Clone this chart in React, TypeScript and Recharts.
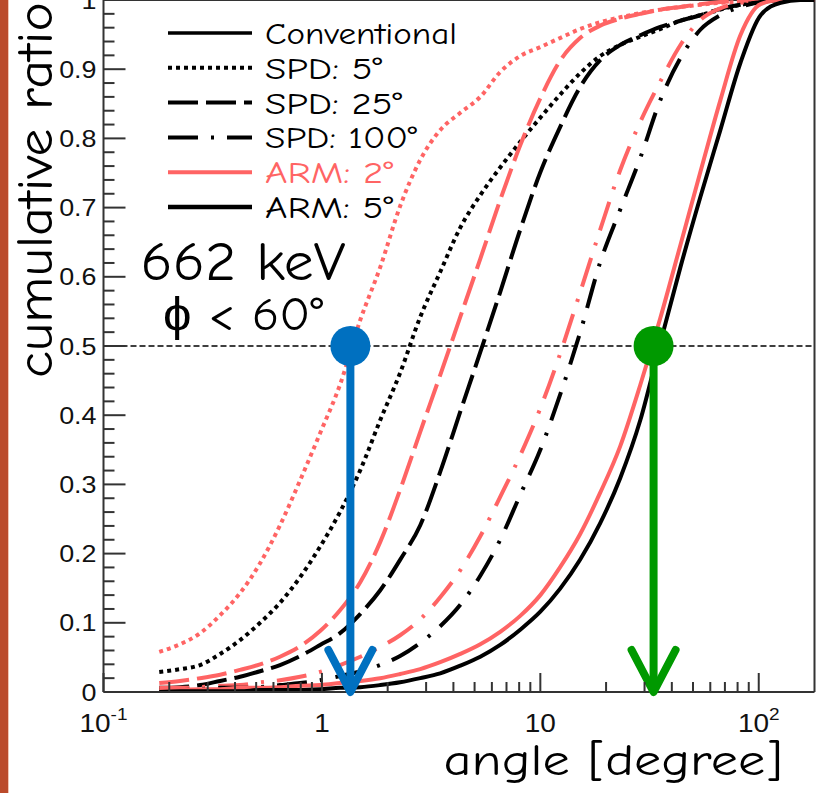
import React from "react";
import {
  Legend,
  Line,
  LineChart,
  ReferenceDot,
  ReferenceLine,
  XAxis,
  YAxis,
} from "recharts";

const angles = [
  0.18, 0.224, 0.277, 0.342, 0.422, 0.521, 0.643, 0.795, 0.981, 1.21, 1.5, 1.85,
  2.28, 2.82, 3.48, 4.3, 5.31, 6.55, 8.09, 10, 12.3, 15.2, 18.8, 23.2, 28.7,
  35.4, 43.8, 54, 66.7, 82.4, 102, 126, 155, 180,
];

// cumulative ratio for each curve, one value per angle above
const spd5Arm2 = [
  0.058, 0.069, 0.085, 0.111, 0.143, 0.186, 0.241, 0.306, 0.374, 0.444, 0.538, 0.614,
  0.702, 0.769, 0.812, 0.837, 0.86, 0.896, 0.919, 0.932, 0.945, 0.958, 0.968, 0.975, 0.981,
  0.986, 0.99, 0.993, 0.996, 0.997, 0.999, 1, 1, 1,
];
const spd5Arm5 = [
  0.029, 0.033, 0.039, 0.055, 0.075, 0.1, 0.129, 0.166, 0.21, 0.26, 0.321, 0.393,
  0.461, 0.542, 0.607, 0.671, 0.718, 0.758, 0.795, 0.83, 0.863, 0.894, 0.919, 0.935, 0.947,
  0.958, 0.97, 0.978, 0.986, 0.993, 0.997, 1, 1, 1,
];
const spd25Arm2 = [
  0.013, 0.016, 0.02, 0.025, 0.032, 0.04, 0.051, 0.066, 0.088, 0.118, 0.159, 0.217,
  0.292, 0.376, 0.458, 0.542, 0.626, 0.711, 0.79, 0.858, 0.912, 0.945, 0.963, 0.973, 0.98,
  0.986, 0.99, 0.994, 0.997, 0.999, 1, 1, 1, 1,
];
const spd25Arm5 = [
  0.006, 0.007, 0.01, 0.016, 0.022, 0.03, 0.039, 0.052, 0.068, 0.085, 0.113, 0.147,
  0.191, 0.241, 0.318, 0.405, 0.491, 0.578, 0.668, 0.751, 0.816, 0.874, 0.913, 0.935, 0.949,
  0.961, 0.97, 0.978, 0.987, 0.993, 0.997, 1, 1, 1,
];
const spd100Arm2 = [
  0.006, 0.006, 0.007, 0.009, 0.01, 0.014, 0.017, 0.022, 0.029, 0.039, 0.051, 0.065,
  0.082, 0.105, 0.137, 0.176, 0.225, 0.282, 0.342, 0.41, 0.488, 0.577, 0.668, 0.754, 0.824,
  0.882, 0.935, 0.971, 0.988, 0.996, 0.999, 1, 1, 1,
];
const spd100Arm5 = [
  0.003, 0.003, 0.004, 0.006, 0.006, 0.007, 0.01, 0.013, 0.017, 0.023, 0.03, 0.039,
  0.052, 0.071, 0.095, 0.126, 0.168, 0.22, 0.285, 0.35, 0.429, 0.519, 0.621, 0.697, 0.772,
  0.855, 0.916, 0.957, 0.978, 0.99, 0.997, 1, 1, 1,
];
const convArm2 = [
  0.003, 0.003, 0.004, 0.004, 0.006, 0.006, 0.007, 0.009, 0.01, 0.013, 0.016, 0.02,
  0.026, 0.033, 0.043, 0.055, 0.069, 0.087, 0.11, 0.14, 0.18, 0.228, 0.288, 0.355, 0.444,
  0.54, 0.646, 0.751, 0.855, 0.949, 0.994, 1, 1, 1,
];
const convArm5 = [
  0.0, 0.001, 0.001, 0.001, 0.001, 0.003, 0.003, 0.003, 0.004, 0.006, 0.007, 0.01,
  0.014, 0.02, 0.027, 0.038, 0.051, 0.068, 0.09, 0.116, 0.149, 0.191, 0.244, 0.309, 0.393,
  0.504, 0.614, 0.715, 0.812, 0.909, 0.978, 0.996, 1, 1,
];

const xMajorTicks = [0.1, 1, 10, 100];
const xMinorTicks = [
  0.2, 0.3, 0.4, 0.5, 0.6, 0.7, 0.8, 0.9,
  2, 3, 4, 5, 6, 7, 8, 9,
  20, 30, 40, 50, 60, 70, 80, 90,
];
// base and exponent of each major x label
const xTickLabels: [string, string][] = [["10", "-1"], ["1", ""], ["10", ""], ["10", "2"]];

const yMajorTicks = [0, 0.1, 0.2, 0.3, 0.4, 0.5, 0.6, 0.7, 0.8, 0.9, 1];
const yTickLabels = ["0", "0.1", "0.2", "0.3", "0.4", "0.5", "0.6", "0.7", "0.8", "0.9", "1"];
const yMinorTicks = yMajorTicks
  .slice(0, -1)
  .flatMap((t) => [1, 2, 3, 4].map((k) => +(t + k * 0.02).toFixed(2)));

const halfRatio = 0.5;
const medians = [
  { angle: 1.35, color: "#0070c0" },
  { angle: 33, color: "#009900" },
];

const rows = angles.map((angle, i) => ({
  angle,
  spd5Arm2: spd5Arm2[i],
  spd5Arm5: spd5Arm5[i],
  spd25Arm2: spd25Arm2[i],
  spd25Arm5: spd25Arm5[i],
  spd100Arm2: spd100Arm2[i],
  spd100Arm5: spd100Arm5[i],
  convArm2: convArm2[i],
  convArm5: convArm5[i],
}));

const RED = "#ff6464";
const BLACK = "#000000";
const DOT = "4 4";
const DASH = "30 8";
const DASH_DOT = "30 13 3 13";

const series = [
  { key: "spd5Arm2", color: RED, dash: DOT },
  { key: "spd5Arm5", color: BLACK, dash: DOT },
  { key: "spd25Arm2", color: RED, dash: DASH },
  { key: "spd25Arm5", color: BLACK, dash: DASH },
  { key: "spd100Arm2", color: RED, dash: DASH_DOT },
  { key: "spd100Arm5", color: BLACK, dash: DASH_DOT },
  { key: "convArm2", color: RED, dash: undefined },
  { key: "convArm5", color: BLACK, dash: undefined },
];

const legendItems = [
  { label: "Conventional", color: BLACK, dash: undefined, width: 3.5, textWidth: 192 },
  { label: "SPD: 5°", color: BLACK, dash: DOT, width: 4, textWidth: 117 },
  { label: "SPD: 25°", color: BLACK, dash: DASH, width: 4, textWidth: 137 },
  { label: "SPD: 100°", color: BLACK, dash: DASH_DOT, width: 4, textWidth: 152 },
  { label: "ARM: 2°", color: RED, dash: undefined, width: 4, textWidth: 128 },
  { label: "ARM: 5°", color: BLACK, dash: undefined, width: 4.5, textWidth: 128 },
];

const COMIC = "'Comic Sans MS', 'Comic Neue', 'Open Sans', sans-serif";
const HELV = "'Liberation Sans', Arial, Helvetica, sans-serif";
const AXIS = "#333333";

function XTick(props: any) {
  const { x, y, payload } = props;
  const idx = xMajorTicks.indexOf(payload.value);
  const major = idx >= 0;
  return (
    <g>
      <line x1={x} x2={x} y1={y} y2={y - (major ? 19 : 10)} stroke={AXIS} strokeWidth={2} />
      {major && (
        <text
          transform={`translate(${x},${y + 40}) scale(1.12,1)`}
          textAnchor="middle"
          fontSize={25}
          fontFamily={HELV}
          fill="#111"
        >
          <tspan>{xTickLabels[idx][0]}</tspan>
          {xTickLabels[idx][1] && (
            <tspan dy={-12} fontSize={17}>
              {xTickLabels[idx][1]}
            </tspan>
          )}
        </text>
      )}
    </g>
  );
}

function YTick(props: any) {
  const { x, y, payload } = props;
  const idx = yMajorTicks.indexOf(payload.value);
  const major = idx >= 0;
  return (
    <g>
      <line x1={x} x2={x + (major ? 22 : 11)} y1={y} y2={y} stroke={AXIS} strokeWidth={2} />
      {major && (
        <text
          transform={`translate(${x - 7},${y}) scale(1.12,1)`}
          textAnchor="end"
          dy="0.36em"
          fontSize={24}
          fontFamily={HELV}
          fill="#111"
        >
          {yTickLabels[idx]}
        </text>
      )}
    </g>
  );
}

function LegendBox() {
  return (
    <svg width={320} height={220} style={{ display: "block" }}>
      {legendItems.map((item, i) => {
        const cy = 19 + i * 34.8;
        return (
          <g key={item.label}>
            <line
              x1={8}
              x2={92}
              y1={cy}
              y2={cy}
              stroke={item.color}
              strokeWidth={item.width}
              strokeDasharray={item.dash}
            />
            <text
              x={105}
              y={cy + 11}
              fontSize={31}
              fontFamily={COMIC}
              fill={item.color}
              textLength={item.textWidth}
              lengthAdjust="spacingAndGlyphs"
            >
              {item.label}
            </text>
          </g>
        );
      })}
    </svg>
  );
}

function EnergyNote() {
  return (
    <g fontFamily={COMIC} fill="#000">
      <text x={243} y={280} textAnchor="middle" fontSize={54} textLength={205} lengthAdjust="spacingAndGlyphs">
        662 keV
      </text>
      <text x={243} y={330} textAnchor="middle" fontSize={46} textLength={160} lengthAdjust="spacingAndGlyphs">
        ϕ &lt; 60°
      </text>
    </g>
  );
}

const arrowShape = (color: string) => (props: any) => {
  const { x1, y1, x2, y2 } = props;
  return (
    <g>
      <line x1={x1} y1={y1} x2={x2} y2={y2} stroke={color} strokeWidth={8} />
      <polyline
        points={`${x2 - 22},${y2 - 42} ${x2},${y2} ${x2 + 22},${y2 - 42}`}
        fill="none"
        stroke={color}
        strokeWidth={8}
        strokeLinecap="round"
        strokeLinejoin="round"
      />
    </g>
  );
};

export default function App() {
  return (
    <div style={{ position: "absolute", left: 0, top: 0, width: 817, height: 793, background: "#fff" }}>
      <div style={{ position: "absolute", left: 0, top: 0, width: 8, height: 793, background: "#bb4a2b" }} />
      <div style={{ position: "absolute", left: 8, top: 0, width: 1, height: 793, background: "#f2c4b5" }} />
      <LineChart width={817} height={793} data={rows} margin={{ top: 0, right: 2.5, bottom: 0, left: 0 }}>
        <XAxis
          dataKey="angle"
          type="number"
          scale="log"
          domain={[0.1, 180]}
          allowDataOverflow
          ticks={[...xMajorTicks, ...xMinorTicks]}
          interval={0}
          tickSize={0}
          tickMargin={0}
          tickLine={false}
          tick={<XTick />}
          axisLine={{ stroke: AXIS, strokeWidth: 2 }}
          height={101}
          label={(p: any) => {
            const vb = p.viewBox;
            return (
              <text
                x={vb.x + vb.width - 32}
                y={vb.y + 83}
                textAnchor="end"
                fontSize={44}
                fontFamily={COMIC}
                fill="#000"
                textLength={339}
                lengthAdjust="spacingAndGlyphs"
              >
                angle [degree]
              </text>
            );
          }}
        />
        <YAxis
          type="number"
          domain={[0, 1]}
          allowDataOverflow
          ticks={[...yMajorTicks, ...yMinorTicks]}
          interval={0}
          tickSize={0}
          tickMargin={0}
          tickLine={false}
          tick={<YTick />}
          axisLine={{ stroke: AXIS, strokeWidth: 2 }}
          width={103.5}
          label={(p: any) => {
            const vb = p.viewBox;
            const x = vb.x + 52;
            const y = vb.y + 378;
            return (
              <text
                x={x}
                y={y}
                transform={`rotate(-90, ${x}, ${y})`}
                fontSize={50}
                fontFamily={COMIC}
                fill="#000"
                textLength={376}
                lengthAdjust="spacingAndGlyphs"
              >
                cumulative ratio
              </text>
            );
          }}
        />
        <ReferenceLine x={180} stroke={AXIS} strokeWidth={2} />
        <ReferenceLine y={1} stroke={AXIS} strokeWidth={2} />
        <ReferenceLine y={halfRatio} stroke="#000" strokeWidth={1.3} strokeDasharray="6 3" />
        {series.map((s) => (
          <Line
            key={s.key}
            dataKey={s.key}
            type="monotone"
            stroke={s.color}
            strokeWidth={4}
            strokeDasharray={s.dash}
            dot={false}
            activeDot={false}
            legendType="none"
            isAnimationActive={false}
          />
        ))}
        {medians.map((m) => (
          <ReferenceLine
            key={`arrow-${m.angle}`}
            segment={[
              { x: m.angle, y: halfRatio },
              { x: m.angle, y: 0 },
            ]}
            shape={arrowShape(m.color)}
            zIndex={1500}
          />
        ))}
        {medians.map((m) => (
          <ReferenceDot
            key={`dot-${m.angle}`}
            x={m.angle}
            y={halfRatio}
            r={20}
            fill={m.color}
            stroke="none"
            zIndex={1600}
          />
        ))}
        <EnergyNote />
        <Legend
          layout="vertical"
          align="center"
          verticalAlign="middle"
          wrapperStyle={{ left: 160, top: 14, width: 320, height: 220 }}
          content={() => <LegendBox />}
        />
      </LineChart>
    </div>
  );
}
